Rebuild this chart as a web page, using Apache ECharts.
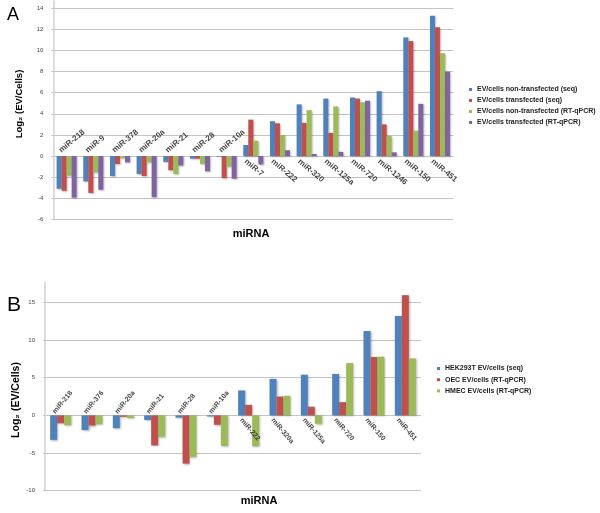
<!DOCTYPE html>
<html><head><meta charset="utf-8">
<script src="https://cdn.jsdelivr.net/npm/echarts@6/dist/echarts.min.js"></script>
<style>html,body{margin:0;padding:0;background:#fff}#c{width:600px;height:513px}</style>
</head><body><div id="c"></div>
<script>
// ---- Panel A data ----
const catsA = ['miR-218','miR-9','miR-378','miR-20a','miR-21','miR-28','miR-10a','miR-7','miR-222','miR-320','miR-125a','miR-720','miR-1246','miR-150','miR-451'];
const namesA = ['EV/cells non-transfected (seq)','EV/cells transfected (seq)','EV/cells non-transfected (RT-qPCR)','EV/cells transfected (RT-qPCR)'];
const nonTransSeqA = [-3.1, -2.4, -1.9, -1.7, -0.55, -0.25, -0.05, 1.05, 3.3, 4.9, 5.45, 5.55, 6.15, 11.25, 13.3];
const transSeqA    = [-3.3, -3.5, -0.75, -1.9, -1.35, -0.25, -2.1, 3.45, 3.1, 3.15, 2.2, 5.45, 3.0, 10.9, 12.2];
const nonTransQA   = [-1.85, -1.55, -0.2, -0.6, -1.7, -0.75, -1.0, 1.45, 2.0, 4.35, 4.7, 5.1, 1.9, 2.4, 9.75];
const transQA      = [-3.95, -3.2, -0.6, -3.9, -0.9, -1.45, -2.15, -0.8, 0.55, 0.2, 0.4, 5.25, 0.35, 4.95, 8.0];
const ticksA = {min: -6, max: 14.7, interval: 2};

// ---- Panel B data ----
const catsB = ['miR-218','miR-376','miR-20a','miR-21','miR-28','miR-10a','miR-222','miR-320a','miR-125a','miR-720','miR-150','miR-451'];
const namesB = ['HEK293T EV/cells (seq)','OEC EV/cells (RT-qPCR)','HMEC EV/cells (RT-qPCR)'];
const hekB  = [-3.25, -1.95, -1.7, -0.6, -0.3, -0.15, 3.3, 4.85, 5.4, 5.5, 11.2, 13.2];
const oecB  = [-1.05, -1.35, -0.2, -4.0, -6.4, -1.25, 1.4, 2.5, 1.15, 1.75, 7.75, 15.95];
const hmecB = [-1.3, -1.2, -0.35, -2.85, -5.5, -4.05, -4.1, 2.6, -1.1, 6.95, 7.8, 7.55];
const ticksB = {min: -10, max: 17.7, interval: 5};

const valsA = [nonTransSeqA, transSeqA, nonTransQA, transQA];
const valsB = [hekB, oecB, hmecB];
const colors = ['#4F81BD','#C0504D','#9BBB59','#8064A2'];
const FONT = "'Liberation Sans', Arial, sans-serif";
const GRID = '#C4C4C4';

function yAxis(gi, t) {
  return {
    type: 'value', gridIndex: gi, min: t.min, max: t.max, interval: t.interval,
    axisLine: {show: true, lineStyle: {color: '#D0D0D0', width: 1.5}},
    axisTick: {show: true, length: 2, lineStyle: {color: GRID}},
    splitLine: {show: true, showMaxLine: false, lineStyle: {color: GRID, width: 1}},
    axisLabel: {fontSize: 6, color: '#444', margin: 10, showMaxLabel: false, fontFamily: FONT}
  };
}
function xAxis(gi, cats) {
  return {type: 'category', gridIndex: gi, data: cats,
    axisTick: {show: false}, axisLine: {show: false}, axisLabel: {show: false}, splitLine: {show: false}};
}
// category names drawn at the zero line: above for negative groups, below for positive groups
function nameLabels(gi, cats, signRef, rot, fs, offNeg, offPos) {
  return {
    type: 'scatter', xAxisIndex: gi, yAxisIndex: gi, symbolSize: 1, silent: true, z: 5,
    itemStyle: {color: 'rgba(0,0,0,0)'},
    label: {show: true, position: 'inside', formatter: '{b}', fontSize: fs, fontWeight: 'bold', color: '#111', fontFamily: FONT},
    data: cats.map((c, i) => {
      const neg = signRef[i] < 0;
      return {
        value: [i, 0], name: c,
        label: neg ? {rotate: rot, align: 'left', verticalAlign: 'bottom', offset: offNeg}
                   : {rotate: -rot, align: 'left', verticalAlign: 'top', offset: offPos}
      };
    })
  };
}
const shadow = {shadowColor: 'rgba(0,0,0,0.28)', shadowBlur: 2, shadowOffsetX: 1, shadowOffsetY: 1};

const series = [];
namesA.forEach((n, i) => series.push({
  type: 'bar', name: n, xAxisIndex: 0, yAxisIndex: 0, data: valsA[i],
  barGap: '0%', barCategoryGap: '25%',
  itemStyle: Object.assign({color: colors[i]}, shadow)
}));
namesB.forEach((n, i) => series.push({
  type: 'bar', name: n, xAxisIndex: 1, yAxisIndex: 1, data: valsB[i],
  barGap: '0%', barCategoryGap: '33%',
  itemStyle: Object.assign({color: colors[i]}, shadow)
}));
series.push(nameLabels(0, catsA, nonTransSeqA, 40, 8, [-2, -4], [-3, 4.5]));
series.push(nameLabels(1, catsB, hekB, 50, 7, [-2.4, -3.6], [-2, 4.5]));

const legendText = {fontSize: 7, fontWeight: 'bold', color: '#222', lineHeight: 9, fontFamily: FONT};
const option = {
  animation: false,
  textStyle: {fontFamily: FONT},
  grid: [
    {left: 53.3, right: 146.7, top: 1, height: 218.3},
    {left: 45, right: 179, top: 282, height: 208.7}
  ],
  xAxis: [xAxis(0, catsA), xAxis(1, catsB)],
  yAxis: [yAxis(0, ticksA), yAxis(1, ticksB)],
  legend: [
    {orient: 'vertical', left: 464, top: 80, itemWidth: 3, itemHeight: 3, itemGap: 2, icon: 'rect',
     textStyle: legendText, data: namesA},
    {orient: 'vertical', left: 432, top: 359, itemWidth: 3, itemHeight: 3, itemGap: 2.2, icon: 'rect',
     textStyle: legendText, data: namesB}
  ],
  graphic: [
    {type: 'text', x: 13, y: 15, style: {text: 'A', fontSize: 18, fontFamily: FONT, fill: '#000', align: 'center', verticalAlign: 'middle'}},
    {type: 'text', x: 14, y: 305, style: {text: 'B', fontSize: 21, fontFamily: FONT, fill: '#000', align: 'center', verticalAlign: 'middle'}},
    {type: 'text', x: 19, y: 104, rotation: Math.PI / 2, style: {text: 'Log\u2082 (EV/Cells)', fontSize: 9.5, fontWeight: 'bold', fontFamily: FONT, fill: '#000', align: 'center', verticalAlign: 'middle'}},
    {type: 'text', x: 16, y: 400, rotation: Math.PI / 2, style: {text: 'Log\u2082 (EV/Cells)', fontSize: 10.5, fontWeight: 'bold', fontFamily: FONT, fill: '#000', align: 'center', verticalAlign: 'middle'}},
    {type: 'text', x: 251, y: 234, style: {text: 'miRNA', fontSize: 11, fontWeight: 'bold', fontFamily: FONT, fill: '#000', align: 'center', verticalAlign: 'middle'}},
    {type: 'text', x: 259, y: 501, style: {text: 'miRNA', fontSize: 11, fontWeight: 'bold', fontFamily: FONT, fill: '#000', align: 'center', verticalAlign: 'middle'}}
  ],
  series: series
};
const chart = echarts.init(document.getElementById('c'), null, {renderer: 'canvas'});
chart.setOption(option);
</script>
</body></html>
